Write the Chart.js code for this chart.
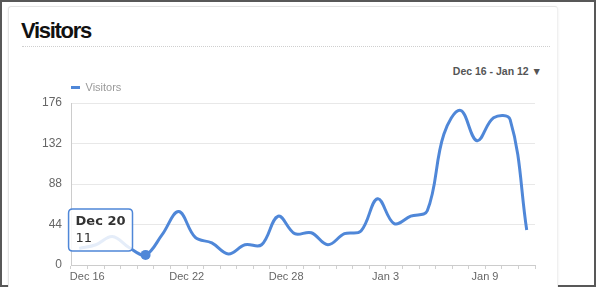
<!DOCTYPE html>
<html>
<head>
<meta charset="utf-8">
<script src="https://cdn.jsdelivr.net/npm/chart.js@4.4.1/dist/chart.umd.min.js"></script>
<style>
  html, body { margin: 0; padding: 0; background: #fff; }
  #frame { position: absolute; left: 0; top: 0; width: 592px; height: 283px; border: 2px solid #585858; background: #fff; overflow: hidden; }
  #panel { position: absolute; left: 8px; top: 6px; width: 548px; height: 300px; border: 1px solid #e4e4e4; border-right-color: #f0f0f0; border-radius: 3px; box-shadow: 0 1px 3px rgba(0,0,0,0.08); background: #fff; }
  #title { position: absolute; left: 21px; top: 20px; font-family: "Liberation Sans", Arial, sans-serif; font-weight: bold; font-size: 22px; line-height: 22px; letter-spacing: -1.3px; color: #111; white-space: nowrap; }
  #rule { position: absolute; left: 22px; top: 46px; width: 528px; border-top: 1px dotted #cfcfcf; }
  #range { position: absolute; right: 54px; top: 65px; font-family: "Liberation Sans", Arial, sans-serif; font-weight: bold; font-size: 10.5px; line-height: 12px; color: #555; white-space: nowrap; }
  #c { position: absolute; left: 0; top: 0; }
</style>
</head>
<body>
<div id="frame"></div>
<div id="panel"></div>
<div id="title">Visitors</div>
<div id="rule"></div>
<div id="range">Dec 16 - Jan 12 ▼</div>
<canvas id="c" width="596" height="287"></canvas>
<script>
const categories = ['Dec 16','Dec 17','Dec 18','Dec 19','Dec 20','Dec 21','Dec 22','Dec 23','Dec 24','Dec 25','Dec 26','Dec 27','Dec 28','Dec 29','Dec 30','Dec 31','Jan 1','Jan 2','Jan 3','Jan 4','Jan 5','Jan 6','Jan 7','Jan 8','Jan 9','Jan 10','Jan 11','Jan 12'];
const visitors = [18, 22, 31, 19, 11, 33, 58, 30, 24, 12, 22, 22, 53, 34, 35, 22, 34, 37, 72, 45, 53, 59, 142, 168, 135, 160, 158, 38];
const yTicks = [0, 44, 88, 132, 176];
const seriesName = 'Visitors';
const highlightIndex = 4;
const lineColor = '#4f87d8';

Chart.Tooltip.positioners.fixedLeft = function(items) {
  if (!items.length) return false;
  const el = items[0].element;
  return { x: el.x - 73, y: el.y - 46, xAlign: 'left', yAlign: 'top' };
};

const chart = new Chart(document.getElementById('c'), {
  type: 'line',
  data: {
    labels: categories,
    datasets: [{
      label: seriesName,
      data: visitors,
      borderColor: lineColor,
      backgroundColor: lineColor,
      borderWidth: 3,
      tension: 0.38,
      fill: false,
      pointRadius: 0,
      pointHoverRadius: 5,
      pointHoverBorderWidth: 0,
      pointBackgroundColor: lineColor,
      pointHoverBackgroundColor: lineColor
    }]
  },
  options: {
    responsive: false,
    animation: false,
    events: [],
    layout: { padding: { left: 0, right: 61, top: 82, bottom: 2 } },
    plugins: {
      legend: {
        display: true,
        position: 'top',
        align: 'start',
        fullSize: false,
        labels: {
          boxWidth: 9,
          boxHeight: 3,
          padding: 0,
          color: '#9a9a9a',
          font: { family: '"Liberation Sans", Arial, sans-serif', size: 11 },
          generateLabels: (ch) => Chart.defaults.plugins.legend.labels.generateLabels(ch).map(it => Object.assign(it, { lineWidth: 0, fillStyle: lineColor }))
        }
      },
      tooltip: {
        enabled: true,
        position: 'fixedLeft',
        backgroundColor: 'rgba(255,255,255,0.85)',
        borderColor: lineColor,
        borderWidth: 1.5,
        cornerRadius: 4,
        caretSize: 0,
        caretPadding: 0,
        displayColors: false,
        titleColor: '#333',
        bodyColor: '#333',
        titleFont: { family: '"DejaVu Sans", Verdana, sans-serif', size: 13, weight: 'bold' },
        bodyFont: { family: '"DejaVu Sans", Verdana, sans-serif', size: 13 },
        titleMarginBottom: 1,
        padding: { top: 5, bottom: 5, left: 7, right: 7 },
        callbacks: {
          title: (items) => categories[items[0].dataIndex],
          label: (item) => String(item.raw)
        }
      }
    },
    scales: {
      x: {
        type: 'category',
        offset: true,
        grid: { display: true, drawOnChartArea: false, drawTicks: true, tickLength: 4, color: '#d0d0d0', offset: true },
        border: { display: true, color: '#cccccc' },
        ticks: {
          autoSkip: false,
          maxRotation: 0,
          minRotation: 0,
          labelOffset: 8,
          padding: 1,
          color: '#666',
          font: { family: '"Liberation Sans", Arial, sans-serif', size: 11 },
          callback: (v, i) => (i % 6 === 0 ? categories[i] : '')
        },
        afterFit: (s) => { s.height = 20; }
      },
      y: {
        min: yTicks[0],
        max: yTicks[yTicks.length - 1],
        afterBuildTicks: (s) => { s.ticks = yTicks.map(v => ({ value: v })); },
        grid: { color: '#e8e8e8', drawTicks: false },
        border: { display: true, color: '#cccccc' },
        ticks: {
          padding: 9,
          color: '#666',
          font: { family: '"Liberation Sans", Arial, sans-serif', size: 12 }
        },
        afterFit: (s) => { s.width = 71; }
      }
    }
  }
});

const act = [{ datasetIndex: 0, index: highlightIndex }];
chart.setActiveElements(act);
chart.tooltip.setActiveElements(act, { x: 0, y: 0 });
chart.update();
</script>
</body>
</html>
